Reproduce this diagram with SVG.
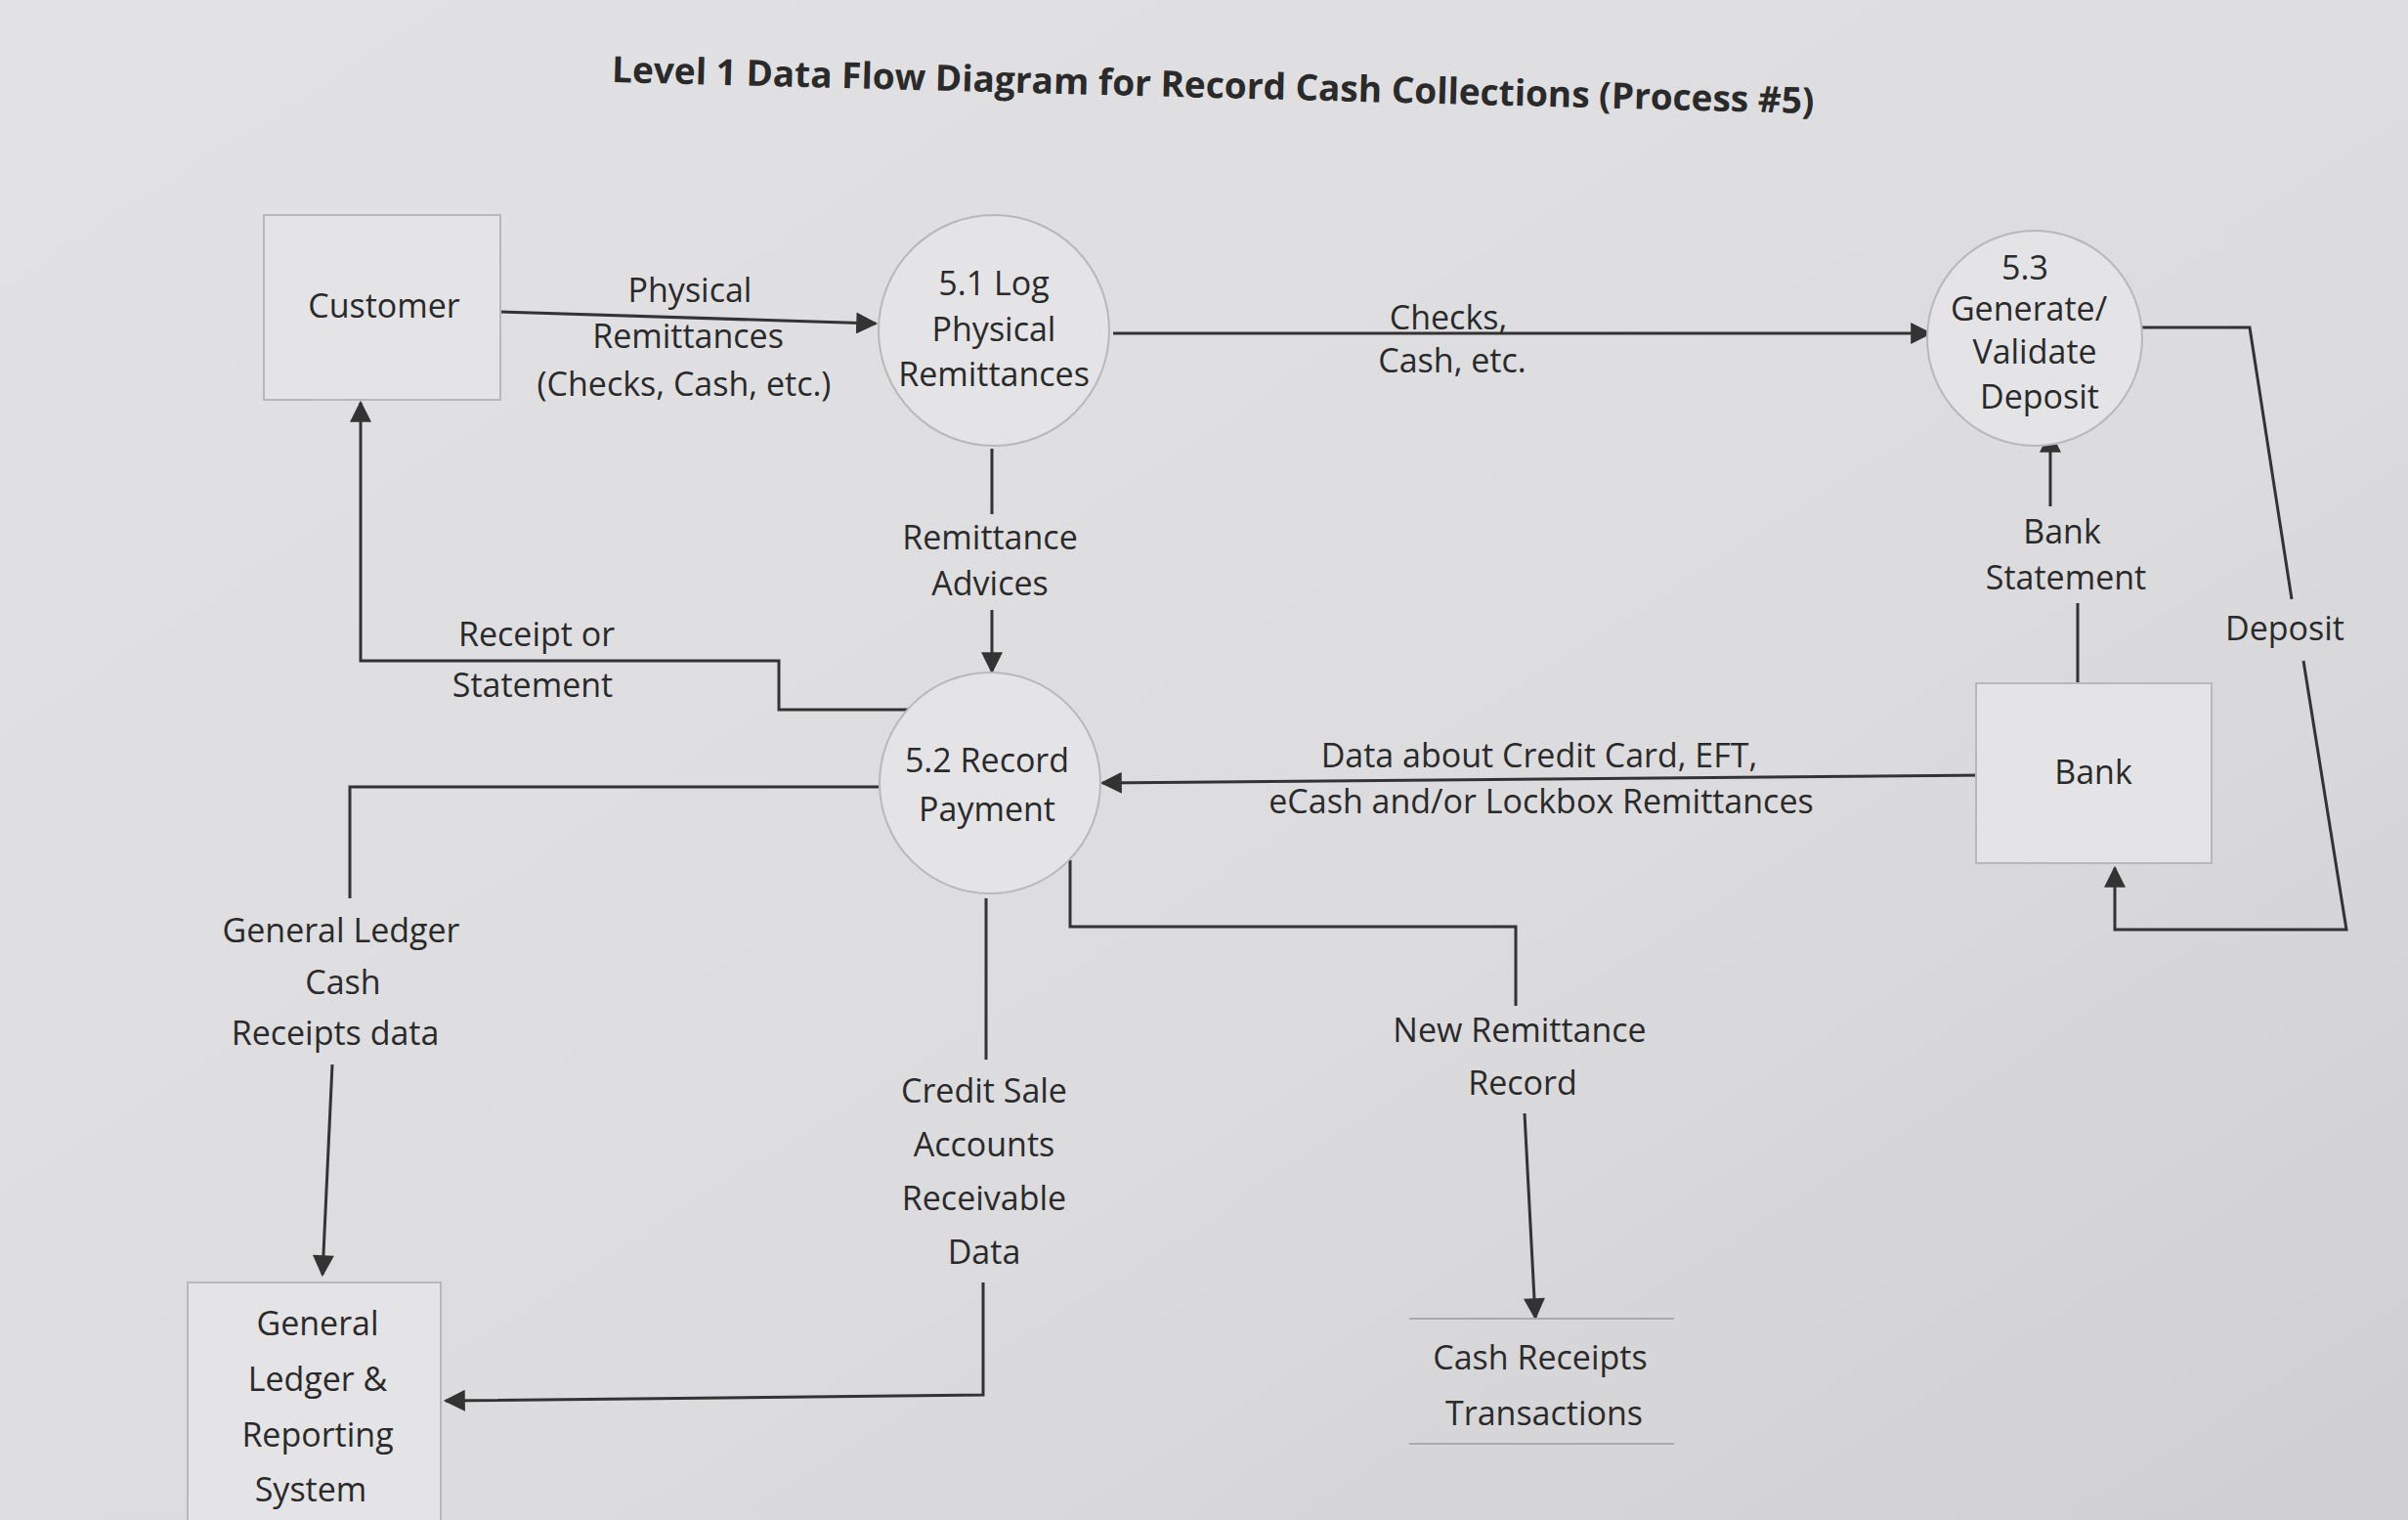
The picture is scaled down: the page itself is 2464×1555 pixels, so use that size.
<svg xmlns="http://www.w3.org/2000/svg" width="2464" height="1555" viewBox="0 0 2464 1555">
<defs>
<linearGradient id="bg" x1="0" y1="0" x2="1" y2="1">
<stop offset="0" stop-color="#e2e2e4"/><stop offset="0.6" stop-color="#dcdcde"/><stop offset="1" stop-color="#cfcfd1"/>
</linearGradient>
<marker id="ah" viewBox="0 0 10 10" refX="9" refY="5" markerWidth="9" markerHeight="9" orient="auto-start-reverse" markerUnits="userSpaceOnUse"><path d="M0,0 L10,5 L0,10 z" fill="#333"/></marker>
<marker id="a" viewBox="0 0 10 10" refX="9" refY="5" markerWidth="26" markerHeight="22" orient="auto" markerUnits="userSpaceOnUse"><path d="M0,0 L10,5 L0,10 z" fill="#333"/></marker>
</defs>
<style>
text{font-family:"Open Sans","Liberation Sans",sans-serif;font-size:34px;fill:#2a2a2a;text-anchor:middle}
.t{font-weight:bold;font-size:37px}
.n{fill:#e4e4e6;stroke:#b8b8ba;stroke-width:2}
.c{fill:none;stroke:#333;stroke-width:3}
.s{fill:none;stroke:#aaa;stroke-width:2}
</style>
<rect width="2464" height="1555" fill="url(#bg)"/>
<text class="t" x="1241" y="100" transform="rotate(1.5 1241 100)">Level 1 Data Flow Diagram for Record Cash Collections (Process #5)</text>
<g id="connectors">
<path class="c" d="M512,319 L896,331" marker-end="url(#a)"/>
<path class="c" d="M1139,341 L1975,341" marker-end="url(#a)"/>
<path class="c" d="M1015,459 L1015,526"/>
<path class="c" d="M1015,624 L1015,687" marker-end="url(#a)"/>
<path class="c" d="M935,726 L797,726 L797,676 L369,676 L369,412" marker-end="url(#a)"/>
<path class="c" d="M899,805 L358,805 L358,919"/>
<path class="c" d="M340,1089 L330,1304" marker-end="url(#a)"/>
<path class="c" d="M1009,919 L1009,1084"/>
<path class="c" d="M1006,1312 L1006,1427 L456,1433" marker-end="url(#a)"/>
<path class="c" d="M1095,880 L1095,948 L1551,948 L1551,1029"/>
<path class="c" d="M1560,1139 L1571,1348" marker-end="url(#a)"/>
<path class="c" d="M2035,793 L1128,801" marker-end="url(#a)"/>
<path class="c" d="M2126,699 L2126,617"/>
<path class="c" d="M2098,518 L2098,443" marker-end="url(#a)"/>
<path class="c" d="M2184,335 L2302,335 L2345,613"/>
<path class="c" d="M2357,676 L2401,951 L2164,951 L2164,888" marker-end="url(#a)"/>
</g>
<g id="customer"><rect class="n" x="270" y="220" width="242" height="189"/><text x="393" y="325">Customer</text></g>
<g id="p51"><circle class="n" cx="1017" cy="338" r="118"/><text x="1017" y="302">5.1 Log</text><text x="1017" y="349">Physical</text><text x="1017" y="395">Remittances</text></g>
<g id="p53"><circle class="n" cx="2082" cy="346" r="110"/><text x="2072" y="286">5.3</text><text x="2076" y="328">Generate/</text><text x="2082" y="372">Validate</text><text x="2087" y="418">Deposit</text></g>
<g id="p52"><circle class="n" cx="1013" cy="801" r="113"/><text x="1010" y="790">5.2 Record</text><text x="1010" y="840">Payment</text></g>
<g id="bank"><rect class="n" x="2022" y="699" width="241" height="184"/><text x="2142" y="802">Bank</text></g>
<g id="gl"><path class="n" d="M192,1555 L192,1312 L451,1312 L451,1555"/><text x="325" y="1366">General</text><text x="325" y="1423">Ledger &amp;</text><text x="325" y="1480">Reporting</text><text x="318" y="1536">System</text></g>
<g id="crt"><path class="s" d="M1442,1349 L1713,1349 M1442,1477 L1713,1477"/><text x="1576" y="1401">Cash Receipts</text><text x="1580" y="1458">Transactions</text></g>
<g id="labels">
<text x="706" y="309">Physical</text><text x="704" y="356">Remittances</text><text x="700" y="405">(Checks, Cash, etc.)</text>
<text x="1482" y="337">Checks,</text><text x="1486" y="381">Cash, etc.</text>
<text x="1013" y="562">Remittance</text><text x="1013" y="609">Advices</text>
<text x="2110" y="556">Bank</text><text x="2114" y="603">Statement</text>
<text x="2338" y="655">Deposit</text>
<text x="549" y="661">Receipt or</text><text x="545" y="713">Statement</text>
<text x="1575" y="785">Data about Credit Card, EFT,</text><text x="1577" y="832">eCash  and/or Lockbox Remittances</text>
<text x="349" y="964">General Ledger</text><text x="351" y="1017">Cash</text><text x="343" y="1069">Receipts data</text>
<text x="1007" y="1128">Credit Sale</text><text x="1007" y="1183">Accounts</text><text x="1007" y="1238">Receivable</text><text x="1007" y="1293">Data</text>
<text x="1555" y="1066">New Remittance</text><text x="1558" y="1120">Record</text>
</g>
</svg>
